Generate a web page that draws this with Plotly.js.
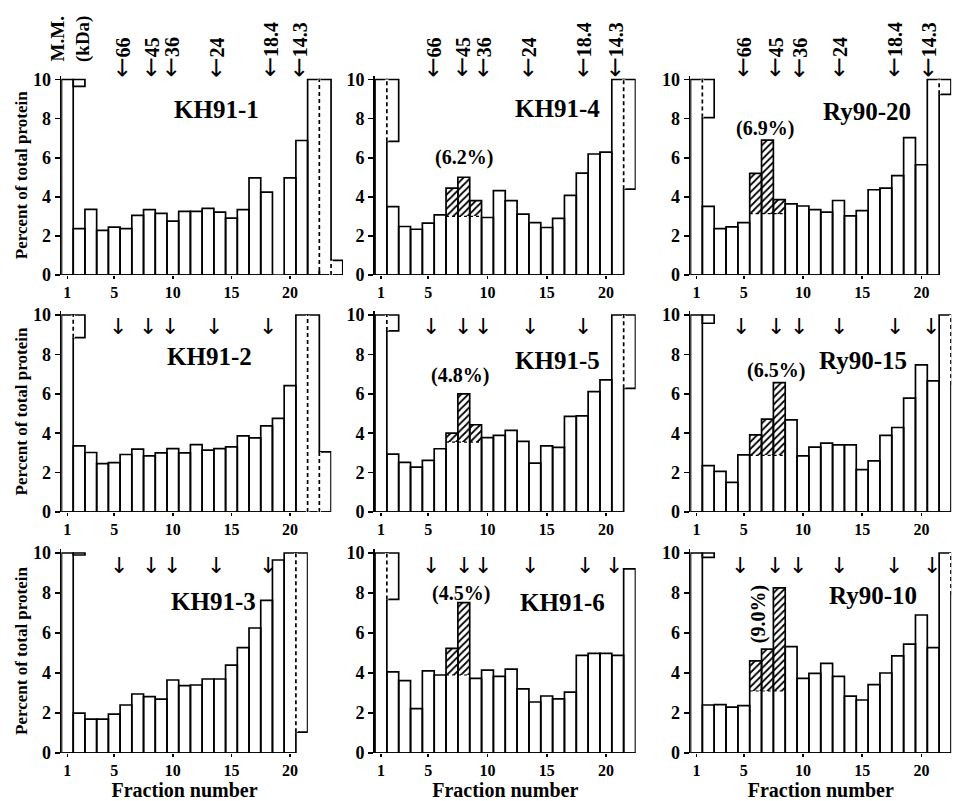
<!DOCTYPE html>
<html><head><meta charset="utf-8">
<script src="https://cdn.plot.ly/plotly-3.0.1.min.js"></script>
<style>html,body{margin:0;padding:0;background:#fff}#chart{width:953px;height:801px}</style>
</head><body><div id="chart"></div>
<script>
// ---------- DATA: percent of total protein per fraction (off-scale values drawn at 10) ----------
const KH91_1  = [10,2.37,3.36,2.28,2.45,2.37,3.05,3.34,3.15,2.76,3.25,3.25,3.41,3.22,2.91,3.34,4.97,4.24,null,4.97,6.88,10,10,0.75];
const KH91_2  = [10,3.36,3.02,2.46,2.51,2.92,3.19,2.85,3.0,3.22,3.0,3.42,3.14,3.22,3.31,3.86,3.76,4.37,4.75,6.41,10,10,3.05];
const KH91_3  = [10,1.99,1.69,1.69,1.94,2.4,2.95,2.82,2.69,3.65,3.37,3.4,3.7,3.7,4.39,5.27,6.25,7.63,9.65,10];
const KH91_4  = [10,3.5,2.48,2.34,2.65,3.08,4.44,5.0,3.8,2.94,4.32,3.8,3.11,2.68,2.43,2.9,4.07,5.21,6.19,6.29,10];
const KH91_5  = [10,2.94,2.52,2.28,2.62,3.21,4.0,6.0,4.43,3.78,3.89,4.14,3.58,2.48,3.36,3.28,4.85,4.88,6.11,6.71,10];
const KH91_6  = [10,4.06,3.62,2.22,4.11,3.9,5.23,7.52,3.73,4.14,3.83,4.19,3.21,2.55,2.85,2.71,3.04,4.88,4.98,4.98,4.88,9.21];
const RY90_20 = [10,3.51,2.37,2.46,2.68,5.2,6.9,3.86,3.64,3.53,3.34,3.22,3.81,3.02,3.29,4.36,4.44,5.08,7.03,5.64,10];
const RY90_15 = [10,2.35,2.06,1.5,2.9,3.92,4.71,6.57,4.68,2.85,3.29,3.5,3.41,3.41,2.15,2.6,3.89,4.29,5.78,7.47,6.66,10];
const RY90_10 = [10,2.4,2.42,2.29,2.37,4.61,5.19,8.26,5.32,3.73,3.98,4.48,3.83,2.84,2.65,3.42,4.0,4.86,5.44,6.9,5.27,10];

// off-scale "folded" boxes: fraction and lower edge (upper edge is 10)
const KH91_1_FOLD_X = [2],      KH91_1_FOLD_LO = [9.65];
const KH91_2_FOLD_X = [2],      KH91_2_FOLD_LO = [8.85];
const KH91_3_FOLD_X = [2, 21],  KH91_3_FOLD_LO = [9.9, 1.04];
const KH91_4_FOLD_X = [2, 22],  KH91_4_FOLD_LO = [6.84, 4.39];
const KH91_5_FOLD_X = [2, 22],  KH91_5_FOLD_LO = [9.19, 6.28];
const KH91_6_FOLD_X = [2],      KH91_6_FOLD_LO = [7.68];
const RY90_20_FOLD_X = [2, 22], RY90_20_FOLD_LO = [8.05, 9.24];
const RY90_15_FOLD_X = [2],     RY90_15_FOLD_LO = [9.58];
const RY90_10_FOLD_X = [2],     RY90_10_FOLD_LO = [9.78];

// dashed bar edges: boundary position, lower and upper value
const KH91_1_DASH_X = [22.5, 23.5],       KH91_1_DASH_LO = [0.2, 0],       KH91_1_DASH_HI = [10, 0.75];
const KH91_2_DASH_X = [1.5, 21.5, 22.5],  KH91_2_DASH_LO = [8.85, 0, 0],   KH91_2_DASH_HI = [10, 10, 3.05];
const KH91_3_DASH_X = [20.5],             KH91_3_DASH_LO = [1.04],         KH91_3_DASH_HI = [10];
const KH91_4_DASH_X = [1.5, 21.5],        KH91_4_DASH_LO = [6.84, 4.39],   KH91_4_DASH_HI = [10, 10];
const KH91_5_DASH_X = [1.5, 21.5],        KH91_5_DASH_LO = [9.19, 6.28],   KH91_5_DASH_HI = [10, 10];
const KH91_6_DASH_X = [1.5],              KH91_6_DASH_LO = [7.68],         KH91_6_DASH_HI = [10];
const RY90_20_DASH_X = [1.5, 21.5],       RY90_20_DASH_LO = [8.05, 9.24],  RY90_20_DASH_HI = [10, 10];
const RY90_15_DASH_X = [22.5],            RY90_15_DASH_LO = [6.45],        RY90_15_DASH_HI = [10];
const RY90_10_DASH_X = [22.5],            RY90_10_DASH_LO = [7.9],         RY90_10_DASH_HI = [10];

// hatched fractions and lower edge of hatching
const KH91_4_HATCH_X = [7, 8, 9],  KH91_4_HATCH_LO = 3.0;
const KH91_5_HATCH_X = [7, 8, 9],  KH91_5_HATCH_LO = 3.55;
const KH91_6_HATCH_X = [7, 8],     KH91_6_HATCH_LO = 3.9;
const RY90_20_HATCH_X = [6, 7, 8], RY90_20_HATCH_LO = 3.14;
const RY90_15_HATCH_X = [6, 7, 8], RY90_15_HATCH_LO = 2.87;
const RY90_10_HATCH_X = [6, 7, 8], RY90_10_HATCH_LO = 3.1;

// molecular-mass marker labels (kDa) and their elution positions (fraction) per panel
const MM_LABELS = ['66', '45', '36', '24', '18.4', '14.3'];
const KH91_1_MM  = [5.67, 8.2, 9.9, 13.7, 18.3, 20.8];
const KH91_2_MM  = [5.3, 7.9, 9.8, 13.5, 18.1];
const KH91_3_MM  = [5.4, 8.1, 9.9, 13.7, 18.1];
const KH91_4_MM  = [5.4, 7.9, 9.7, 13.5, 18.1, 20.8];
const KH91_5_MM  = [5.2, 7.9, 9.6, 13.6, 18.1];
const KH91_6_MM  = [5.2, 8.0, 9.6, 13.6, 18.2, 20.7];
const RY90_20_MM = [5.0, 7.7, 9.7, 13.1, 17.7, 20.6];
const RY90_15_MM = [4.8, 7.7, 9.7, 13.0, 17.8, 20.8];
const RY90_10_MM = [4.7, 7.6, 9.6, 13.0, 17.7, 20.9];

const PANEL_NAMES = ['KH91-1', 'KH91-4', 'Ry90-20', 'KH91-2', 'KH91-5', 'Ry90-15', 'KH91-3', 'KH91-6', 'Ry90-10'];
const PCT_TEXT = [null, '(6.2%)', '(6.9%)', null, '(4.8%)', '(6.5%)', null, '(4.5%)', '(9.0%)'];
const X_TICKS = [1, 5, 10, 15, 20];
const Y_TICKS = [0, 2, 4, 6, 8, 10];

// ---------- LAYOUT / STYLE ----------
const W = 953, H = 801;
const COL_X = [61.5, 375, 690.5];    // px of left edge (fraction 0.5)
const COL_S = [11.72, 11.84, 11.84]; // px per fraction
const ROW_Y = [275, 512, 753];       // px of 0 %
const ROW_S = [19.55, 19.7, 20.0];   // px per 1 %
const YTOP = 10.2, XPAD = 0.02;
const FONT = 'Liberation Serif, Times New Roman, serif';
const ARROW_FONT = 'DejaVu Sans';
const TITLE_POS = [[13.7,8.45],[15.9,8.5],[15.4,8.35],[13.1,7.9],[15.9,7.7],[15.1,7.7],[13.5,7.6],[16.3,7.55],[15.9,7.9]];
const PCT_POS = [null,[8.0,6.0],[6.8,7.5],null,[7.7,6.95],[7.7,7.2],null,[7.76,8.0],[6.2,6.94]];

const panels = [
  {v:KH91_1,  fx:KH91_1_FOLD_X,  fl:KH91_1_FOLD_LO,  dx:KH91_1_DASH_X,  dl:KH91_1_DASH_LO,  dh:KH91_1_DASH_HI,  hx:null, hl:null, mm:KH91_1_MM},
  {v:KH91_4,  fx:KH91_4_FOLD_X,  fl:KH91_4_FOLD_LO,  dx:KH91_4_DASH_X,  dl:KH91_4_DASH_LO,  dh:KH91_4_DASH_HI,  hx:KH91_4_HATCH_X, hl:KH91_4_HATCH_LO, mm:KH91_4_MM},
  {v:RY90_20, fx:RY90_20_FOLD_X, fl:RY90_20_FOLD_LO, dx:RY90_20_DASH_X, dl:RY90_20_DASH_LO, dh:RY90_20_DASH_HI, hx:RY90_20_HATCH_X, hl:RY90_20_HATCH_LO, mm:RY90_20_MM},
  {v:KH91_2,  fx:KH91_2_FOLD_X,  fl:KH91_2_FOLD_LO,  dx:KH91_2_DASH_X,  dl:KH91_2_DASH_LO,  dh:KH91_2_DASH_HI,  hx:null, hl:null, mm:KH91_2_MM},
  {v:KH91_5,  fx:KH91_5_FOLD_X,  fl:KH91_5_FOLD_LO,  dx:KH91_5_DASH_X,  dl:KH91_5_DASH_LO,  dh:KH91_5_DASH_HI,  hx:KH91_5_HATCH_X, hl:KH91_5_HATCH_LO, mm:KH91_5_MM},
  {v:RY90_15, fx:RY90_15_FOLD_X, fl:RY90_15_FOLD_LO, dx:RY90_15_DASH_X, dl:RY90_15_DASH_LO, dh:RY90_15_DASH_HI, hx:RY90_15_HATCH_X, hl:RY90_15_HATCH_LO, mm:RY90_15_MM},
  {v:KH91_3,  fx:KH91_3_FOLD_X,  fl:KH91_3_FOLD_LO,  dx:KH91_3_DASH_X,  dl:KH91_3_DASH_LO,  dh:KH91_3_DASH_HI,  hx:null, hl:null, mm:KH91_3_MM},
  {v:KH91_6,  fx:KH91_6_FOLD_X,  fl:KH91_6_FOLD_LO,  dx:KH91_6_DASH_X,  dl:KH91_6_DASH_LO,  dh:KH91_6_DASH_HI,  hx:KH91_6_HATCH_X, hl:KH91_6_HATCH_LO, mm:KH91_6_MM},
  {v:RY90_10, fx:RY90_10_FOLD_X, fl:RY90_10_FOLD_LO, dx:RY90_10_DASH_X, dl:RY90_10_DASH_LO, dh:RY90_10_DASH_HI, hx:RY90_10_HATCH_X, hl:RY90_10_HATCH_LO, mm:RY90_10_MM}
];

const traces = [];
const annotations = [];
const layout = {
  width: W, height: H, margin: {l:0, r:0, t:0, b:0},
  paper_bgcolor: 'white', plot_bgcolor: 'rgba(0,0,0,0)',
  showlegend: false, barmode: 'overlay', bargap: 0,
  font: {family: FONT, color: 'black'}
};
const xTickFont = {family: FONT, size: 16, color: 'black', weight: 'bold'};

panels.forEach((p, k) => {
  const r = Math.floor(k / 3), c = k % 3;
  const sfx = k === 0 ? '' : String(k + 1);
  const xa = 'x' + sfx, ya = 'y' + sfx;
  const n = p.v.length;
  const xEnd = Math.max(n, ...p.fx) + 0.5;
  const x0 = 0.5 - XPAD, x1 = xEnd + XPAD;
  const dx0 = (COL_X[c] - XPAD * COL_S[c]) / W;
  const dx1 = Math.min(1, (COL_X[c] + (x1 - 0.5) * COL_S[c]) / W);
  const dy0 = 1 - ROW_Y[r] / H;
  const dy1 = 1 - (ROW_Y[r] - YTOP * ROW_S[r]) / H;
  const fracs = p.v.map((_, i) => i + 1);

  // hatched parts (drawn underneath the outlines)
  if (p.hx) {
    traces.push({type:'bar', xaxis:xa, yaxis:ya, x:p.hx, width:1,
      base:p.hx.map(() => p.hl), y:p.hx.map(f => p.v[f-1] - p.hl),
      marker:{color:'white', line:{width:0},
        pattern:{shape:'/', fgcolor:'black', bgcolor:'white', size:5, solidity:0.35}},
      hoverinfo:'skip'});
  }
  // main bars
  traces.push({type:'bar', xaxis:xa, yaxis:ya, x:fracs, y:p.v, width:1,
    marker:{color:'rgba(0,0,0,0)', line:{color:'black', width:1.7}}, hoverinfo:'x+y'});
  // folded off-scale boxes
  traces.push({type:'bar', xaxis:xa, yaxis:ya, x:p.fx, width:1,
    base:p.fl, y:p.fl.map(l => 10 - l),
    marker:{color:'rgba(0,0,0,0)', line:{color:'black', width:1.7}}, hoverinfo:'skip'});
  // baseline
  traces.push({type:'scatter', mode:'lines', xaxis:xa, yaxis:ya, x:[0.5, n + 0.5], y:[0, 0],
    line:{color:'black', width:1.7}, cliponaxis:false, hoverinfo:'skip'});
  // dotted lower edge of hatching
  if (p.hx) {
    traces.push({type:'scatter', mode:'lines', xaxis:xa, yaxis:ya,
      x:[p.hx[0] - 0.5, p.hx[p.hx.length-1] + 0.5], y:[p.hl, p.hl],
      line:{color:'black', width:1.2, dash:'dot'}, hoverinfo:'skip'});
  }
  // dashed edges: erase solid edge, then draw dashes
  const ex = [], ey = [];
  p.dx.forEach((x, i) => { ex.push(x, x, null); ey.push(p.dl[i], p.dh[i], null); });
  traces.push({type:'scatter', mode:'lines', xaxis:xa, yaxis:ya, x:ex, y:ey,
    line:{color:'white', width:3.4}, hoverinfo:'skip', cliponaxis:false});
  traces.push({type:'scatter', mode:'lines', xaxis:xa, yaxis:ya, x:ex, y:ey,
    line:{color:'black', width:1.7, dash:'4px,3px'}, hoverinfo:'skip', cliponaxis:false});

  layout['xaxis' + sfx] = {
    domain:[dx0, dx1], range:[x0, x1], anchor:ya,
    showline:false, showgrid:false, zeroline:false,
    tickmode:'array', tickvals:X_TICKS, ticks:'outside', ticklen:3, tickwidth:1.7, tickcolor:'black',
    tickfont:xTickFont, fixedrange:true,
    title: r === 2 ? {text:'Fraction number', font:{family:FONT, size:20, color:'black', weight:'bold'}, standoff:8} : {text:''}
  };
  layout['yaxis' + sfx] = {
    domain:[dy0, dy1], range:[0, YTOP], anchor:xa,
    showline:true, linecolor:'black', linewidth:1.7, showgrid:false, zeroline:false,
    tickmode:'array', tickvals:Y_TICKS, ticks:'outside', ticklen:5, tickwidth:1.7, tickcolor:'black',
    tickfont:{family: FONT, size: 18, color: 'black', weight: 'bold'}, fixedrange:true,
    title: c === 0 ? {text:'Percent of total protein', font:{family:FONT, size:17, color:'black', weight:'bold'}, standoff:1} : {text:''}
  };

  // panel name
  annotations.push({xref:xa, yref:ya, x:TITLE_POS[k][0], y:TITLE_POS[k][1], text:PANEL_NAMES[k],
    showarrow:false, font:{family:FONT, size:25, color:'black', weight:'bold'}});
  // percent label
  if (PCT_TEXT[k]) {
    annotations.push({xref:xa, yref:ya, x:PCT_POS[k][0], y:PCT_POS[k][1], text:PCT_TEXT[k],
      showarrow:false, textangle: k === 8 ? -90 : 0,
      font:{family:FONT, size:20, color:'black', weight:'bold'}});
  }
  // molecular mass markers
  p.mm.forEach((pos, i) => {
    if (r === 0) {
      annotations.push({xref:xa, yref:ya, x:pos, y:10.0, yanchor:'bottom',
        text:'<span style="font-family:' + ARROW_FONT + ';font-size:24px;font-weight:normal">\u2190</span>' + MM_LABELS[i],
        textangle:-90, showarrow:false, font:{family:FONT, size:20, color:'black', weight:'bold'}});
    } else {
      annotations.push({xref:xa, yref:ya, x:pos, y:9.4, yanchor:'middle', text:'\u2193',
        showarrow:false, font:{family:ARROW_FONT, size:22, color:'black'}});
    }
  });
});

annotations.push({xref:'paper', yref:'paper', x:71 / W, y:1 - 64 / H, xanchor:'center', yanchor:'bottom',
  text:'M.M.<br>(kDa)', textangle:-90, showarrow:false,
  font:{family:FONT, size:19, color:'black', weight:'bold'}});

layout.annotations = annotations;
Plotly.newPlot('chart', traces, layout, {staticPlot:true, displayModeBar:false});
</script>
</body></html>
